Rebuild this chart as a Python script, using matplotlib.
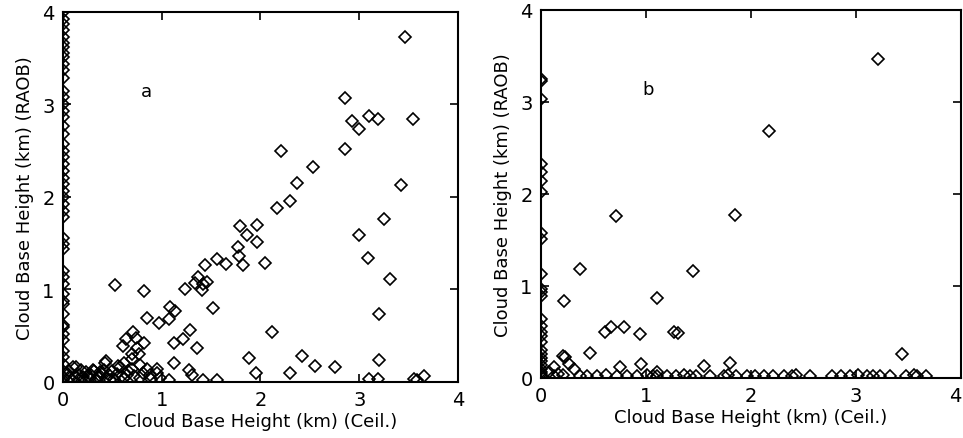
import matplotlib
matplotlib.use("Agg")
import matplotlib.pyplot as plt
import numpy as np

# panel a: points where the ceilometer saw no cloud (x = 0)
a_edge_y = [4.00, 3.92, 3.87, 3.80, 3.73, 3.67, 3.62, 3.56, 3.51, 3.44, 3.37,
            3.29, 3.15, 3.08, 3.01, 2.93, 2.86, 2.77, 2.68, 2.57, 2.50, 2.43,
            2.36, 2.28, 2.21, 2.14, 2.07, 2.00, 1.92, 1.85, 1.78, 1.56, 1.49,
            1.44, 1.20, 1.13, 1.06, 0.95, 0.88, 0.84, 0.74, 0.62, 0.59, 0.52,
            0.45, 0.34, 0.27, 0.19, 0.12, 0.05, 0.02]

# panel a: remaining points
a_x = [3.46, 2.86, 2.93, 3.10, 3.19, 3.00, 3.54, 2.21, 2.86, 2.53, 2.37, 3.42,
       2.30, 2.17, 3.25, 1.79, 1.96, 3.00, 1.86, 1.77, 1.96, 1.56, 3.09, 1.78,
       1.65, 1.82, 2.05, 1.44, 3.31, 1.37, 1.46, 1.34, 1.42, 0.53, 1.24, 0.82,
       1.41, 1.08, 1.13, 1.52, 3.20, 0.85, 0.97, 1.07, 1.29, 2.12, 0.71, 0.64,
       0.74, 0.82, 0.61, 0.75, 1.12, 1.22, 1.36, 1.88, 2.42, 3.20, 1.12, 0.77,
       0.70, 2.55, 2.75, 2.30, 1.95, 1.28, 1.31, 1.42, 1.56, 1.07, 3.10, 3.19,
       3.55, 3.66, 3.58, 0.13, 0.43, 0.95, 0.85, 0.56,
       0.10, 0.58, 0.31, 0.23, 0.37, 0.16, 0.47, 0.81, 0.95, 0.07, 0.27, 0.35,
       0.44, 0.52, 0.62, 0.72, 0.89, 0.28, 0.40, 0.33, 0.20, 0.66, 0.78, 0.70,
       0.50, 0.04, 0.15, 0.60, 0.98, 0.88, 0.78, 0.62, 0.70, 0.44,
       0.25, 0.30, 0.36, 0.42, 0.55, 0.65, 0.06, 0.12, 0.18, 0.48]
a_y = [3.73, 3.07, 2.82, 2.88, 2.84, 2.74, 2.84, 2.50, 2.52, 2.32, 2.15, 2.13,
       1.96, 1.88, 1.76, 1.69, 1.70, 1.59, 1.59, 1.46, 1.51, 1.33, 1.34, 1.36,
       1.28, 1.27, 1.29, 1.26, 1.11, 1.13, 1.08, 1.07, 1.06, 1.05, 1.01, 0.98,
       0.99, 0.81, 0.77, 0.80, 0.74, 0.69, 0.64, 0.68, 0.56, 0.54, 0.54, 0.46,
       0.48, 0.42, 0.39, 0.37, 0.42, 0.46, 0.37, 0.26, 0.28, 0.24, 0.20, 0.30,
       0.25, 0.17, 0.16, 0.10, 0.10, 0.13, 0.08, 0.02, 0.02, 0.02, 0.03, 0.03,
       0.03, 0.06, 0.02, 0.16, 0.20, 0.14, 0.14, 0.17,
       0.16, 0.16, 0.12, 0.11, 0.11, 0.08, 0.08, 0.10, 0.10, 0.04, 0.04, 0.05,
       0.04, 0.03, 0.04, 0.06, 0.03, 0.08, 0.09, 0.03, 0.05, 0.12, 0.18, 0.14,
       0.12, 0.08, 0.02, 0.06, 0.04, 0.08, 0.04, 0.21, 0.30, 0.23,
       0.07, 0.13, 0.08, 0.13, 0.09, 0.08, 0.12, 0.06, 0.13, 0.02]

# panel b: points at x = 0
b_edge_y = [3.25, 3.23, 3.03, 2.33, 2.24, 2.14, 2.02, 1.58, 1.51, 1.13, 0.97,
            0.93, 0.89, 0.64, 0.57, 0.50, 0.46, 0.39, 0.30, 0.26, 0.22, 0.18,
            0.14, 0.10, 0.07, 0.04, 0.02]

# panel b: points where the sounding found cloud near the ground
b_floor_x = [0.12, 0.21, 0.37, 0.44, 0.53, 0.62, 0.72, 0.82, 0.91, 1.01, 1.07,
             1.10, 1.20, 1.29, 1.36, 1.42, 1.48, 1.61, 1.74, 1.78, 1.86, 1.96,
             2.04, 2.12, 2.21, 2.31, 2.39, 2.43, 2.56, 2.77, 2.86, 2.94, 3.02,
             3.10, 3.16, 3.23, 3.32, 3.48, 3.55, 3.58, 3.67]
b_floor_y = [0.02, 0.03, 0.02, 0.02, 0.02, 0.03, 0.02, 0.02, 0.02, 0.03, 0.02,
             0.02, 0.02, 0.02, 0.03, 0.02, 0.02, 0.02, 0.02, 0.03, 0.02, 0.02,
             0.02, 0.02, 0.02, 0.02, 0.02, 0.03, 0.02, 0.02, 0.02, 0.02, 0.03,
             0.02, 0.02, 0.02, 0.02, 0.02, 0.03, 0.02, 0.02]

# panel b: remaining points
b_x = [3.21, 2.17, 0.71, 1.85, 0.37, 1.45, 0.22, 1.10, 0.61, 0.67, 0.79, 0.94,
       1.27, 1.30, 0.47, 0.21, 0.23, 0.27, 0.12, 0.75, 0.95, 1.55, 1.80, 3.44,
       1.10, 0.31, 0.08, 0.16]
b_y = [3.47, 2.68, 1.76, 1.77, 1.18, 1.16, 0.84, 0.87, 0.50, 0.55, 0.55, 0.48,
       0.50, 0.49, 0.27, 0.24, 0.23, 0.15, 0.12, 0.12, 0.15, 0.13, 0.16, 0.26,
       0.06, 0.10, 0.06, 0.04]

ticks = [0, 1, 2, 3, 4]
marker_style = dict(marker="D", markersize=6.5, markerfacecolor="none",
                    markeredgecolor="black", markeredgewidth=1.2,
                    linestyle="none")

fig = plt.figure(figsize=(9.63, 4.39), dpi=100)
ax_a = fig.add_axes([0.0654, 0.1276, 0.4102, 0.8428])
ax_b = fig.add_axes([0.5618, 0.1367, 0.4362, 0.8383])

panels = [
    (ax_a, "a", 0.85, 3.15, a_edge_y, [(a_x, a_y)]),
    (ax_b, "b", 1.02, 3.14, b_edge_y, [(b_x, b_y), (b_floor_x, b_floor_y)]),
]

for ax, tag, tx, ty, edge_y, groups in panels:
    ax.plot(np.zeros(len(edge_y)), edge_y, **marker_style)
    for xs, ys in groups:
        ax.plot(xs, ys, **marker_style)
    ax.set_xlim(0, 4)
    ax.set_ylim(0, 4)
    ax.set_xticks(ticks)
    ax.set_yticks(ticks)
    ax.tick_params(direction="in", top=True, right=True, length=6,
                   width=1.2, labelsize=14, pad=6)
    for sp in ax.spines.values():
        sp.set_linewidth(1.5)
    ax.set_xlabel("Cloud Base Height (km) (Ceil.)", fontsize=13, labelpad=2)
    ax.set_ylabel("Cloud Base Height (km) (RAOB)", fontsize=13, labelpad=6)
    ax.text(tx, ty, tag, fontsize=13, ha="center", va="center")

# right panel's last x label sits at the figure edge; keep it inside
fig.canvas.draw()
ax_b.get_xticklabels()[-1].set_horizontalalignment("right")

fig.savefig("out.png", dpi=100)
